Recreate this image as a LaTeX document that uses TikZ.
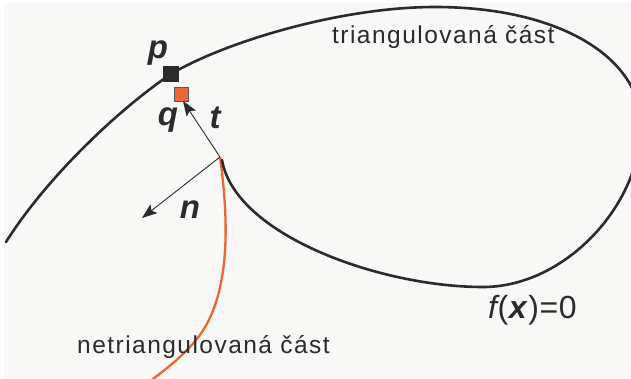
\documentclass[tikz,border=0pt]{standalone}
\usepackage{fontspec}
\setmainfont{Liberation Sans}
\usetikzlibrary{arrows.meta}
\definecolor{curvecol}{HTML}{2B2B2B}
\definecolor{orangecol}{HTML}{EE6636}
\definecolor{bgcol}{HTML}{F8F8F6}
\tikzset{
  curveline/.style={draw=curvecol,line width=2.6pt,line cap=round},
  redline/.style={draw=orangecol,line width=2.3pt},
  vecline/.style={draw=curvecol,line width=0.9pt,-{Stealth[length=15pt,width=11pt,inset=3pt]}},
  lbl/.style={font=\fontsize{24.5}{28}\selectfont\addfontfeature{LetterSpace=6},text=curvecol,inner sep=0pt},
  vlbl/.style={font=\fontsize{33}{36}\selectfont\bfseries\itshape,text=curvecol,inner sep=0pt,anchor=base},
}
\begin{document}
\begin{tikzpicture}[x=1pt,y=-1pt]
\useasboundingbox (0,0) rectangle (631,378);
\fill[white] (0,0) rectangle (631,378);
\fill[bgcol] (4,3) rectangle (631,378);
\clip (0,0) rectangle (631,378);
% orange (non-triangulated) curve
\coordinate (cusp) at (220,157);
\draw[redline] (cusp) .. controls (228,215) and (232,290) .. (200,335) .. controls (185,355) and (165,370) .. (145,385);
% main curve f(x)=0
\draw[curveline] (6,242) .. controls (45,180) and (115,112) .. (171,74)
  .. controls (225,42) and (340,7) .. (435,7)
  .. controls (560,7) and (641,58) .. (641,125)
  .. controls (641,205) and (565,287) .. (483,287)
  .. controls (380,287) and (235,235) .. (222,160);
% squares
\node[draw=none,fill=curvecol,minimum size=16pt,inner sep=0pt] (p) at (171,73.5) {};
\node[draw=gray!70!black,line width=0.6pt,fill=orangecol,minimum size=14.5pt,inner sep=0pt] (q) at (181.5,94.5) {};
% vectors
\coordinate (tipT) at (183,101);
\coordinate (tipN) at (142,218);
\draw[vecline] (cusp) -- (tipT);
\draw[vecline] (cusp) -- (tipN);
% labels
\node[vlbl] (lp) at (158,58) {p};
\node[vlbl] (lq) at (168,125) {q};
\node[vlbl] (lt) at (215,128) {t};
\node[vlbl] (ln) at (190,218) {n};
\node[lbl,anchor=base west] (tri) at (332,43) {triangulovaná část};
\node[lbl,anchor=base west] (ntri) at (77,353) {netriangulovaná část};
\node[font=\fontsize{32}{36}\selectfont\addfontfeature{LetterSpace=2},text=curvecol,inner sep=0pt,anchor=base west] (fx) at (488,318) {\textit{f}\kern-3pt(\textbf{\textit{x}})=0};
\end{tikzpicture}
\end{document}
